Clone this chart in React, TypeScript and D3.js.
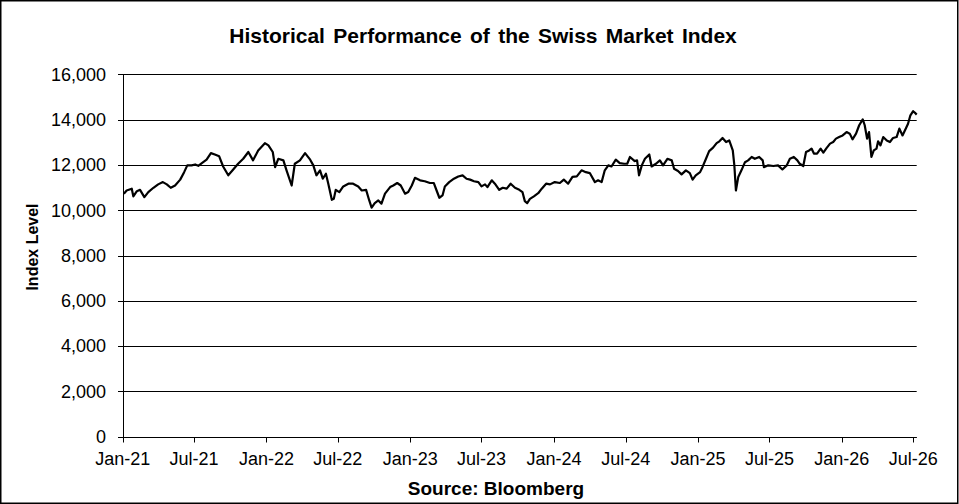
import * as d3 from 'd3';

// SMI closing levels (roughly every 1-2 weeks)
const dates = [
  '2021-01-04', '2021-01-11', '2021-01-24', '2021-01-28', '2021-02-06', '2021-02-14', '2021-02-25', '2021-03-07',
  '2021-03-20', '2021-04-01', '2021-04-13', '2021-04-23', '2021-05-03', '2021-05-14', '2021-05-27', '2021-06-06',
  '2021-06-14', '2021-06-25', '2021-07-04', '2021-07-12', '2021-07-21', '2021-08-02', '2021-08-13', '2021-08-23',
  '2021-09-03', '2021-09-13', '2021-09-26', '2021-10-07', '2021-10-21', '2021-11-03', '2021-11-16', '2021-11-28',
  '2021-12-11', '2021-12-28', '2022-01-06', '2022-01-17', '2022-01-23', '2022-01-31', '2022-02-13', '2022-02-21',
  '2022-03-06', '2022-03-14', '2022-03-27', '2022-04-09', '2022-04-22', '2022-04-30', '2022-05-08', '2022-05-17',
  '2022-05-24', '2022-06-01', '2022-06-07', '2022-06-16', '2022-06-21', '2022-06-26', '2022-07-05', '2022-07-15',
  '2022-07-28', '2022-08-09', '2022-08-22', '2022-08-31', '2022-09-11', '2022-09-19', '2022-09-25', '2022-10-03',
  '2022-10-12', '2022-10-20', '2022-10-29', '2022-11-11', '2022-11-19', '2022-11-29', '2022-12-08', '2022-12-19',
  '2022-12-27', '2023-01-05', '2023-01-13', '2023-01-26', '2023-02-07', '2023-02-20', '2023-03-02', '2023-03-09',
  '2023-03-16', '2023-03-24', '2023-03-30', '2023-04-10', '2023-04-22', '2023-05-03', '2023-05-14', '2023-05-24',
  '2023-06-02', '2023-06-12', '2023-06-23', '2023-07-01', '2023-07-10', '2023-07-16', '2023-07-27', '2023-08-04',
  '2023-08-15', '2023-08-24', '2023-09-03', '2023-09-13', '2023-09-24', '2023-10-05', '2023-10-13', '2023-10-19',
  '2023-10-25', '2023-11-01', '2023-11-11', '2023-11-22', '2023-12-01', '2023-12-12', '2023-12-22', '2024-01-03',
  '2024-01-16', '2024-01-26', '2024-02-06', '2024-02-17', '2024-02-28', '2024-03-11', '2024-03-22', '2024-04-01',
  '2024-04-14', '2024-04-22', '2024-05-01', '2024-05-09', '2024-05-18', '2024-05-26', '2024-06-06', '2024-06-16',
  '2024-06-27', '2024-07-05', '2024-07-12', '2024-07-24', '2024-07-30', '2024-08-04', '2024-08-11', '2024-08-19',
  '2024-08-30', '2024-09-05', '2024-09-16', '2024-09-26', '2024-10-04', '2024-10-15', '2024-10-26', '2024-11-01',
  '2024-11-11', '2024-11-20', '2024-12-01', '2024-12-11', '2024-12-18', '2024-12-26', '2025-01-06', '2025-01-12',
  '2025-01-21', '2025-01-29', '2025-02-08', '2025-02-17', '2025-02-24', '2025-03-04', '2025-03-13', '2025-03-21',
  '2025-03-30', '2025-04-03', '2025-04-07', '2025-04-13', '2025-04-21', '2025-04-30', '2025-05-08', '2025-05-17',
  '2025-05-25', '2025-06-05', '2025-06-14', '2025-06-17', '2025-06-28', '2025-07-11', '2025-07-23', '2025-08-03',
  '2025-08-14', '2025-08-22', '2025-09-01', '2025-09-10', '2025-09-16', '2025-09-25', '2025-10-02', '2025-10-10',
  '2025-10-16', '2025-10-22', '2025-10-30', '2025-11-08', '2025-11-15', '2025-11-23', '2025-12-02', '2025-12-10',
  '2025-12-17', '2025-12-25', '2026-01-03', '2026-01-13', '2026-01-21', '2026-01-28', '2026-02-06', '2026-02-14',
  '2026-02-23', '2026-02-28', '2026-03-06', '2026-03-11', '2026-03-17', '2026-03-23', '2026-03-30', '2026-04-03',
  '2026-04-09', '2026-04-16', '2026-04-25', '2026-05-03', '2026-05-11', '2026-05-20', '2026-05-27', '2026-06-04',
  '2026-06-13', '2026-06-18', '2026-06-24', '2026-07-01', '2026-07-05', '2026-07-10',
];

const values = [
  10730, 10870, 10950, 10610, 10840, 10900, 10580, 10800,
  10990, 11140, 11240, 11140, 10990, 11090, 11350, 11680,
  11980, 11980, 12020, 11960, 12080, 12230, 12520, 12460,
  12380, 11930, 11540, 11760, 12050, 12270, 12570, 12200,
  12640, 12960, 12860, 12570, 11900, 12270, 12200, 11760,
  11090, 12050, 12200, 12520, 12230, 11980, 11540, 11760,
  11390, 11610, 11170, 10460, 10500, 10900, 10800, 11050,
  11170, 11170, 11050, 10870, 10900, 10430, 10110, 10310,
  10430, 10290, 10730, 11020, 11090, 11200, 11090, 10730,
  10800, 11090, 11430, 11320, 11280, 11200, 11200, 10870,
  10550, 10650, 11050, 11240, 11390, 11490, 11540, 11390,
  11350, 11280, 11240, 11050, 11140, 11020, 11320, 11170,
  10900, 10990, 10950, 11170, 10990, 10900, 10800, 10400,
  10310, 10500, 10610, 10750, 10950, 11170, 11140, 11240,
  11200, 11350, 11170, 11470, 11490, 11760, 11680, 11640,
  11240, 11320, 11240, 11760, 11980, 11930, 12230, 12080,
  12050, 12050, 12350, 12170, 12200, 11540, 11980, 12270,
  12460, 11930, 12050, 12200, 11980, 12270, 12200, 11830,
  11730, 11580, 11760, 11640, 11350, 11540, 11680, 11900,
  12270, 12610, 12760, 12960, 13040, 13190, 13010, 13080,
  12640, 11980, 10870, 11470, 11760, 12120, 12200, 12350,
  12270, 12350, 12200, 11900, 11980, 11950, 11980, 11800,
  11980, 12270, 12350, 12200, 12050, 11950, 12570, 12640,
  12720, 12500, 12500, 12720, 12540, 12740, 12940, 13010,
  13160, 13230, 13300, 13450, 13380, 13130, 13380, 13750,
  14010, 13750, 13160, 13450, 12350, 12640, 12720, 13040,
  12860, 13230, 13080, 13010, 13190, 13230, 13600, 13300,
  13630, 13820, 14190, 14370, 14310, 14220,
];

const yTicks = [0, 2000, 4000, 6000, 8000, 10000, 12000, 14000, 16000];

const W = 959;
const H = 504;
const plot = { left: 122.7, right: 916.7, top: 74.3, bottom: 436.7 };
const FONT = "Arial, 'Liberation Sans', sans-serif";

export default function App() {
  const parse = d3.timeParse('%Y-%m-%d');
  const points = dates.map((d, i) => ({ date: parse(d) as Date, value: values[i] }));

  const x = d3.scaleTime()
    .domain([new Date(2021, 0, 1), new Date(2026, 6, 10)])
    .range([plot.left, plot.right]);
  const y = d3.scaleLinear().domain([0, 16000]).range([plot.bottom, plot.top]);

  const line = d3.line<{ date: Date; value: number }>()
    .x(d => x(d.date))
    .y(d => y(d.value));

  const xTicks = d3.timeMonth.every(6)!.range(new Date(2021, 0, 1), new Date(2026, 6, 2));
  const fmtX = d3.timeFormat('%b-%y');
  const fmtY = d3.format(',');
  const crisp = (v: number) => Math.round(v) + 0.5;
  const axisX = crisp(plot.left);
  const axisY = crisp(plot.bottom);

  return (
    <svg width={W} height={H} style={{ position: 'absolute', left: 0, top: 0, background: '#fff' }} fontFamily={FONT}>
      <rect x={0.75} y={0.75} width={W - 2} height={H - 1.5} fill="#fff" stroke="#000" strokeWidth={1.5} />

      <text x={483} y={43} textAnchor="middle" fontSize={21} fontWeight="bold" wordSpacing={2.5}>
        Historical Performance of the Swiss Market Index
      </text>

      {/* gridlines + y ticks */}
      {yTicks.map(t => (
        <g key={t}>
          <line x1={axisX - 5.5} x2={plot.right} y1={crisp(y(t))} y2={crisp(y(t))} stroke="#000" strokeWidth={1} />
          <text x={106} y={y(t)} dy="0.35em" textAnchor="end" fontSize={18}>{fmtY(t)}</text>
        </g>
      ))}

      {/* axes */}
      <line x1={axisX} x2={axisX} y1={crisp(plot.top)} y2={axisY} stroke="#000" />
      <line x1={axisX} x2={plot.right} y1={axisY} y2={axisY} stroke="#000" />
      {xTicks.map(t => (
        <g key={t.toISOString()}>
          <line x1={crisp(x(t))} x2={crisp(x(t))} y1={axisY} y2={axisY + 5} stroke="#000" />
          <text x={x(t)} y={465} textAnchor="middle" fontSize={18}>{fmtX(t)}</text>
        </g>
      ))}

      <path d={line(points) ?? ''} fill="none" stroke="#000" strokeWidth={2.2} strokeLinejoin="round" />

      <text transform="translate(38,247) rotate(-90)" textAnchor="middle" fontSize={16} fontWeight="bold">
        Index Level
      </text>

      <text x={496} y={495} textAnchor="middle" fontSize={19} fontWeight="bold">Source: Bloomberg</text>
    </svg>
  );
}
